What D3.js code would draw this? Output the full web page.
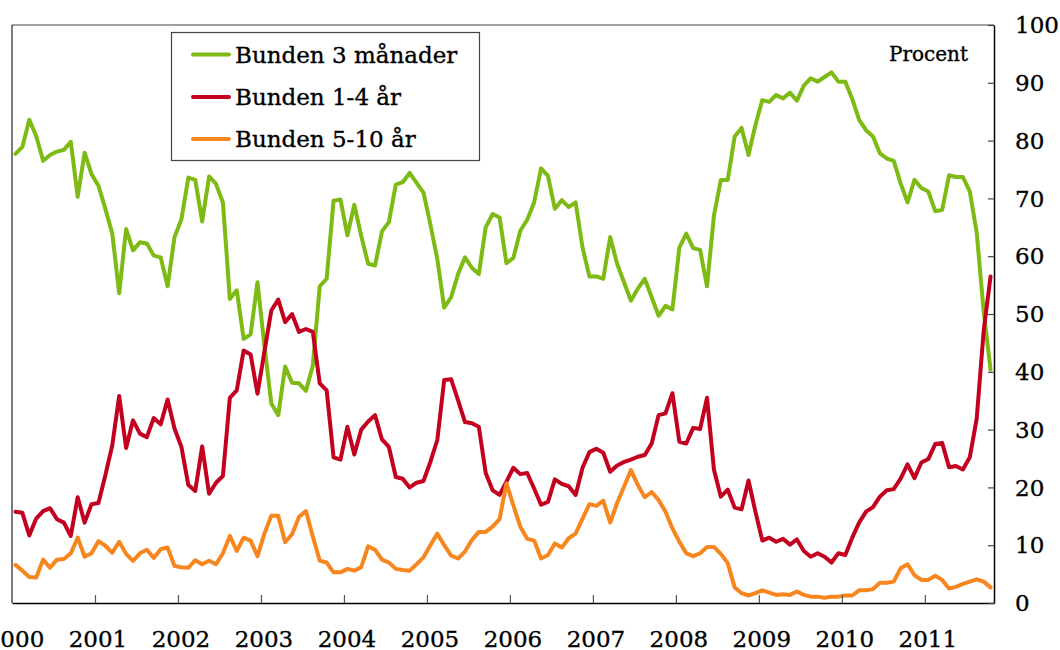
<!DOCTYPE html>
<html>
<head>
<meta charset="utf-8">
<script src="https://cdn.jsdelivr.net/npm/d3@7"></script>
<style>
html,body{margin:0;padding:0;background:#fff;}
svg{display:block;}
text{font-family:"DejaVu Serif",serif;fill:#000;stroke:#000;stroke-width:0.35px;}
</style>
</head>
<body>
<svg id="chart" width="1060" height="650"></svg>
<script>
// Monthly data Jan 2000 – Oct 2011 (percent)
const years = ["2000","2001","2002","2003","2004","2005","2006","2007","2008","2009","2010","2011"];
const yTicks = [0,10,20,30,40,50,60,70,80,90,100];
const seriesNames = ["Bunden 3 månader","Bunden 1-4 år","Bunden 5-10 år"];
const seriesColors = ["#7dba14","#c3001f","#f7861e"];

const bunden3m = [77.7,78.9,83.6,80.8,76.5,77.5,78.1,78.4,79.8,70.3,77.9,74.2,
72.2,68.2,63.9,53.6,64.7,61.0,62.4,62.2,60.1,59.8,54.8,63.3,
66.4,73.6,73.2,66.0,73.8,72.5,69.3,52.6,54.1,45.7,46.5,55.5,
44.5,34.5,32.5,40.9,38.1,38.0,36.7,41.1,54.8,56.1,69.6,69.8,
63.6,68.9,63.5,58.7,58.4,64.3,65.9,72.4,72.8,74.4,72.7,71.0,
65.5,59.5,51.1,52.9,56.9,59.8,58.0,56.9,65.0,67.3,66.7,58.8,
59.7,64.4,66.3,69.3,75.2,73.9,68.2,69.7,68.5,69.3,61.5,56.5,
56.5,56.1,63.3,58.7,55.5,52.3,54.4,56.1,52.9,49.7,51.4,50.8,
61.5,63.9,61.4,61.1,54.8,67.0,73.2,73.2,80.7,82.2,77.5,82.7,
87.0,86.7,87.9,87.3,88.3,86.9,89.5,90.8,90.2,91.0,91.8,90.2,
90.2,87.2,83.6,81.8,80.7,77.8,76.9,76.5,72.6,69.3,73.2,71.8,
71.2,67.8,68.0,74.0,73.7,73.7,71.2,64.1,50.5,40.4];

const bunden1_4 = [15.8,15.6,11.7,14.6,15.9,16.4,14.5,13.9,11.6,18.3,13.9,17.1,
17.3,22.1,27.3,35.8,26.8,31.6,29.3,28.7,32.0,30.9,35.2,30.2,
27.0,20.4,19.4,27.1,18.9,20.8,22.0,35.5,36.8,43.7,43.0,36.2,
43.5,50.6,52.5,48.6,50.0,46.9,47.4,46.9,38.0,36.8,25.2,24.8,
30.5,25.7,30.0,31.4,32.5,28.3,27.0,21.8,21.5,20.0,20.8,21.1,
24.4,28.2,38.6,38.7,35.1,31.3,31.1,30.5,22.5,19.5,18.7,21.0,
23.4,22.3,22.5,19.8,17.0,17.5,21.4,20.6,20.2,18.7,23.4,26.1,
26.7,26.0,22.7,23.8,24.4,24.8,25.3,25.6,27.6,32.5,32.8,36.3,
27.9,27.6,30.3,30.1,35.5,23.1,18.4,19.6,16.5,16.2,21.2,15.8,
10.8,11.3,10.6,11.1,10.1,11.0,9.0,8.0,8.6,8.0,7.0,8.6,
8.3,11.3,13.9,15.8,16.6,18.4,19.5,19.7,21.5,24.0,21.6,24.3,
24.9,27.5,27.7,23.5,23.7,23.1,25.2,31.9,47.0,56.5];

const bunden5_10 = [6.6,5.6,4.5,4.4,7.5,6.1,7.5,7.6,8.6,11.3,8.0,8.6,
10.7,9.9,8.7,10.6,8.5,7.3,8.6,9.2,7.8,9.3,9.6,6.4,
6.2,6.1,7.4,6.7,7.3,6.7,8.6,11.6,9.0,11.3,10.8,8.1,
12.0,15.1,15.1,10.5,11.9,14.9,15.9,11.5,7.3,7.0,5.3,5.3,
5.9,5.6,6.2,9.8,9.2,7.5,7.0,5.9,5.7,5.6,6.7,7.9,
10.0,12.0,10.0,8.2,7.7,8.9,10.9,12.3,12.3,13.2,14.5,20.7,
16.9,13.2,11.1,10.8,7.7,8.3,10.3,9.6,11.2,12.0,14.6,17.1,
16.8,17.7,13.9,17.3,20.1,23.0,20.4,18.3,19.2,17.8,15.8,12.9,
10.6,8.6,8.1,8.6,9.7,9.7,8.5,6.9,2.7,1.7,1.3,1.7,
2.2,1.8,1.4,1.5,1.4,2.0,1.4,1.1,1.1,0.9,1.1,1.1,
1.3,1.3,2.2,2.2,2.4,3.5,3.5,3.7,6.0,6.7,4.8,4.0,
4.0,4.7,4.0,2.5,2.8,3.3,3.7,4.1,3.7,2.7];

const allSeries = [bunden3m, bunden1_4, bunden5_10];

const svg = d3.select("#chart");
const L = 12, R = 994, T = 25, B = 603;
const nMonths = bunden3m.length;

const x = d3.scaleLinear().domain([0, nMonths]).range([L, R]);
const y = d3.scaleLinear().domain([0, 100]).range([B, T]);

// frame: top (grey) and left
svg.append("line").attr("x1", L).attr("x2", R).attr("y1", T).attr("y2", T)
  .attr("stroke", "#808080").attr("stroke-width", 1.5);
svg.append("line").attr("x1", L).attr("x2", L).attr("y1", T).attr("y2", B)
  .attr("stroke", "#333").attr("stroke-width", 1.3);

// series lines
const line = d3.line().x((d, i) => x(i + 0.5)).y(d => y(d));
allSeries.forEach((s, k) => {
  svg.append("path").datum(s)
    .attr("fill", "none")
    .attr("stroke", seriesColors[k])
    .attr("stroke-width", 4)
    .attr("stroke-linejoin", "round")
    .attr("stroke-linecap", "round")
    .attr("d", line);
});

// bottom axis
const xTickVals = years.map((d, i) => i * 12);
const gx = svg.append("g").attr("transform", `translate(0,${B})`)
  .call(d3.axisBottom(x).tickValues(xTickVals).tickSizeInner(-8).tickSizeOuter(0).tickFormat(() => ""));
gx.select(".domain").attr("stroke", "#000").attr("stroke-width", 1.5);
gx.selectAll(".tick line").attr("stroke", "#555").attr("stroke-width", 1.2);
gx.selectAll(".tick").filter((d) => d === 0).select("line").remove();

svg.append("g").selectAll("text").data(years).join("text")
  .attr("x", (d, i) => x(i * 12) + 3)
  .attr("y", 647)
  .attr("text-anchor", "middle")
  .attr("font-size", 23)
  .text(d => d);

// right axis
const gy = svg.append("g").attr("transform", `translate(${R},0)`)
  .call(d3.axisRight(y).tickValues(yTicks).tickSizeInner(-6).tickSizeOuter(0).tickFormat(""));
gy.select(".domain").attr("stroke", "#000").attr("stroke-width", 1.5);
gy.selectAll(".tick line").attr("stroke", "#444").attr("stroke-width", 1.2);

svg.append("g").selectAll("text").data(yTicks).join("text")
  .attr("x", 1015)
  .attr("y", d => y(d))
  .attr("dy", "0.36em")
  .attr("font-size", 23)
  .text(d => d);

// Procent label
svg.append("text").attr("x", 968).attr("y", 61).attr("text-anchor", "end")
  .attr("font-size", 20).text("Procent");

// legend
const lg = svg.append("g");
lg.append("rect").attr("x", 171.5).attr("y", 32.5).attr("width", 308).attr("height", 128)
  .attr("fill", "#fff").attr("stroke", "#444").attr("stroke-width", 1.2);
const rowsY = [54.5, 97, 139];
seriesNames.forEach((name, k) => {
  lg.append("line").attr("x1", 193).attr("x2", 229).attr("y1", rowsY[k]).attr("y2", rowsY[k])
    .attr("stroke", seriesColors[k]).attr("stroke-width", 4).attr("stroke-linecap", "round");
  lg.append("text").attr("x", 235).attr("y", rowsY[k]).attr("dy", "0.35em")
    .attr("font-size", 23).text(name);
});
</script>
</body>
</html>
